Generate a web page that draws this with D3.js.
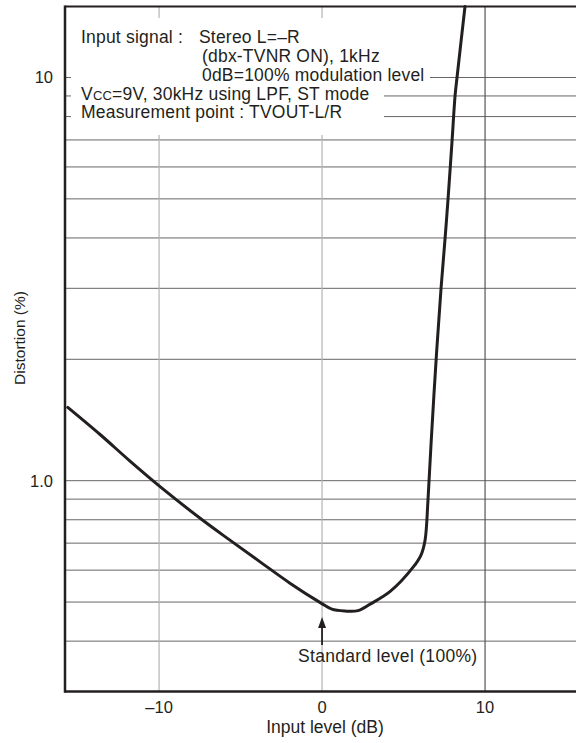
<!DOCTYPE html>
<html>
<head>
<meta charset="utf-8">
<script src="https://cdn.jsdelivr.net/npm/d3@7"></script>
<style>
  html, body { margin: 0; padding: 0; background: #fff; }
  svg { display: block; }
  text { font-family: "Liberation Sans", Arial, Helvetica, sans-serif; fill: #231f20; }
</style>
</head>
<body>
<svg id="chart" width="576" height="743"></svg>
<script>
// ---- data ----
const inputLevel = [-15.6, -13.6, -11.8, -9.9, -7.5, -5.65, -3.8, -1.97, -0.06, 0.6, 1.4, 2.2, 2.95, 4.2, 5.6, 6.07, 6.32, 6.5, 6.7, 7.0, 7.3, 7.55, 7.73, 7.98, 8.16, 8.28, 8.77];
const distortion = [1.52, 1.30, 1.12, 0.964, 0.808, 0.712, 0.629, 0.557, 0.497, 0.480, 0.475, 0.476, 0.494, 0.532, 0.611, 0.654, 0.712, 0.896, 1.26, 2.0, 3.0, 4.0, 5.0, 7.0, 9.0, 10.0, 15.0];
const xTicks = [-10, 0, 10];
const xTickLabels = ["\u201310", "0", "10"];
const yGridValues = [0.4, 0.5, 0.6, 0.7, 0.8, 0.9, 1, 2, 3, 4, 5, 6, 7, 8, 9, 10];
const yTicks = [1, 10];
const yTickLabels = ["1.0", "10"];
const xDomain = [-15.77, 15.58];
const yDomain = [0.3, 15];
const standardLevel = 0;

(function () {
const svg = d3.select("#chart");
const pl = 65, pr = 576, pt = 6.5, pb = 691.5;
const x = d3.scaleLinear().domain(xDomain).range([pl, pr]);
const y = d3.scaleLog().domain(yDomain).range([pb, pt]);
const ink = "#231f20";

// horizontal grid
svg.append("g").selectAll("line").data(yGridValues).join("line")
  .attr("x1", pl).attr("x2", pr)
  .attr("y1", d => y(d)).attr("y2", d => y(d))
  .attr("stroke", "#666").attr("stroke-width", 1);

// vertical grid
svg.append("g").selectAll("line").data(xTicks).join("line")
  .attr("x1", d => x(d)).attr("x2", d => x(d))
  .attr("y1", pt).attr("y2", pb)
  .attr("stroke", d => d === 10 ? "#555" : "#b4b4b4").attr("stroke-width", 1.2);

// white annotation background
svg.append("rect").attr("x", 71).attr("y", 18).attr("width", 313).attr("height", 117).attr("fill", "#fff");
svg.append("rect").attr("x", 380).attr("y", 68).attr("width", 50).attr("height", 18).attr("fill", "#fff");

// curve
const line = d3.line()
  .x((d, i) => x(inputLevel[i]))
  .y((d, i) => y(distortion[i]))
  .curve(d3.curveCatmullRom.alpha(0.5));
svg.append("path").datum(distortion)
  .attr("d", line)
  .attr("fill", "none").attr("stroke", ink).attr("stroke-width", 3)
  .attr("stroke-linejoin", "round").attr("stroke-linecap", "round");

// frame
svg.append("line").attr("x1", pl).attr("x2", pr).attr("y1", pt).attr("y2", pt).attr("stroke", ink).attr("stroke-width", 2);
svg.append("line").attr("x1", pl).attr("x2", pr).attr("y1", pb).attr("y2", pb).attr("stroke", ink).attr("stroke-width", 2.5);
svg.append("line").attr("x1", pl).attr("x2", pl).attr("y1", pt - 1).attr("y2", pb + 1.2).attr("stroke", ink).attr("stroke-width", 2.5);

// x tick labels
svg.append("g").selectAll("text").data(xTicks).join("text")
  .attr("x", d => x(d)).attr("y", 713)
  .attr("text-anchor", "middle").attr("font-size", 16.5)
  .text((d, i) => xTickLabels[i]);

// y tick labels
svg.append("g").selectAll("text").data(yTicks).join("text")
  .attr("x", 53).attr("y", d => y(d))
  .attr("dy", "0.36em")
  .attr("text-anchor", "end").attr("font-size", 16.5)
  .text((d, i) => yTickLabels[i]);

// axis titles
svg.append("text").attr("x", 325).attr("y", 733)
  .attr("text-anchor", "middle").attr("font-size", 17.5)
  .text("Input level (dB)");
svg.append("text")
  .attr("transform", "translate(24.5,338) rotate(-90)")
  .attr("text-anchor", "middle").attr("font-size", 15.5)
  .text("Distortion (%)");

// standard level arrow
const ax = x(standardLevel);
const tipY = y(0.459), baseY = y(0.391);
svg.append("line").attr("x1", ax).attr("x2", ax).attr("y1", tipY + 8).attr("y2", baseY)
  .attr("stroke", ink).attr("stroke-width", 1.8);
svg.append("path")
  .attr("d", `M${ax},${tipY} L${ax - 4},${tipY + 11} L${ax + 4},${tipY + 11} Z`)
  .attr("fill", ink);
svg.append("text").attr("x", 298).attr("y", 662).attr("font-size", 17.5)
  .attr("letter-spacing", 0.3)
  .text("Standard level (100%)");

// annotation text
const ann = svg.append("g").attr("font-size", 17.5).attr("letter-spacing", 0.2);
ann.append("text").attr("x", 81).attr("y", 43).text("Input signal :");
ann.append("text").attr("x", 199).attr("y", 43).text("Stereo L=\u2013R");
ann.append("text").attr("x", 202).attr("y", 62).text("(dbx-TVNR ON), 1kHz");
ann.append("text").attr("x", 202).attr("y", 81).text("0dB=100% modulation level");
const vcc = ann.append("text").attr("x", 81).attr("y", 99.5);
vcc.append("tspan").text("V");
vcc.append("tspan").attr("font-size", 13).text("CC");
vcc.append("tspan").text("=9V, 30kHz using LPF, ST mode");
ann.append("text").attr("x", 81).attr("y", 118).text("Measurement point : TVOUT-L/R");
})();
</script>
</body>
</html>
